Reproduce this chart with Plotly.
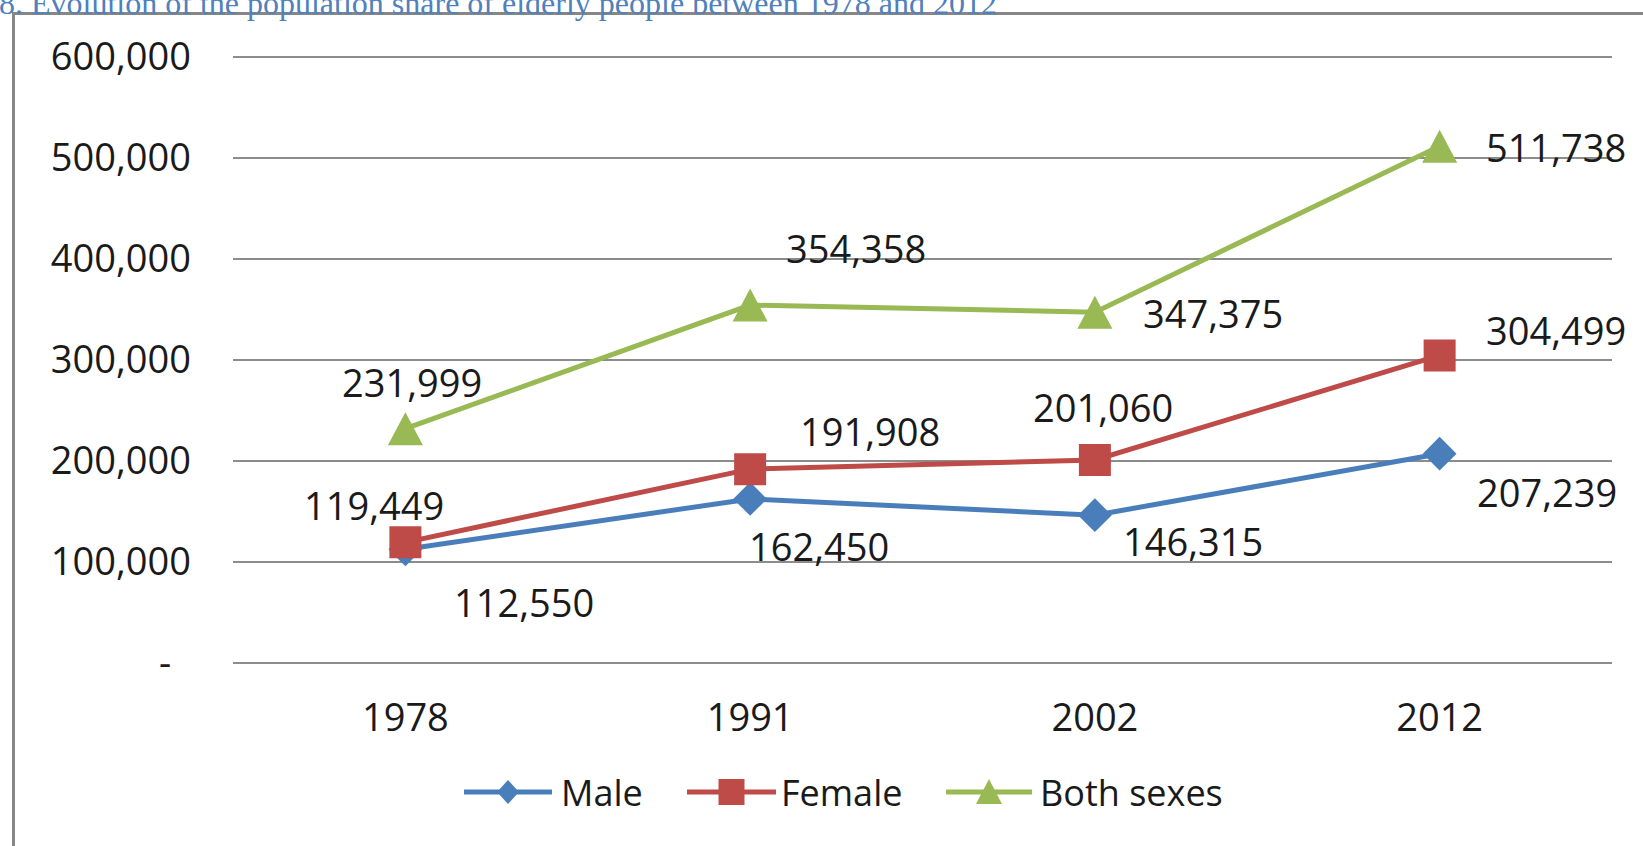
import plotly.graph_objects as go

# ---- data ----
years = ["1978", "1991", "2002", "2012"]
male = [112550, 162450, 146315, 207239]
female = [119449, 191908, 201060, 304499]
both_sexes = [231999, 354358, 347375, 511738]

y_tick_vals = [0, 100000, 200000, 300000, 400000, 500000, 600000]
y_tick_text = ["-\u00a0\u00a0", "100,000", "200,000", "300,000", "400,000", "500,000", "600,000"]

series_names = ["Male", "Female", "Both sexes"]

# ---- styling ----
W, H = 1643, 846
# small padding so the 0 and 600,000 gridlines sit inside the plot area
Y_PAD = 3000
M_L, M_R, M_T, M_B = 233, 31, 54, 180
PLOT_W = W - M_L - M_R
PLOT_H = H - M_T - M_B

BLUE = "#4A7EBB"
RED = "#BE4B48"
GREEN = "#98B954"
GRID = "#8C8C8C"
TEXT = "#1A1A1A"
FONT = "Open Sans"
FS_TEXT = 36
FS_NUM = 38

# data-label offsets in pixels (right, up) from each marker
male_offsets = [(119, -53), (69, -47), (98, -26), (107, -38)]
female_offsets = [(-31, 37), (120, 38), (8, 53), (116, 25)]
both_offsets = [(7, 47), (106, 57), (118, -1), (116, -1)]


def px(x):
    """page pixel x -> paper fraction"""
    return (x - M_L) / PLOT_W


def py(y):
    """page pixel y (from top) -> paper fraction"""
    return (H - M_B - y) / PLOT_H


fig = go.Figure()

fig.add_trace(go.Scatter(
    x=years, y=male, mode="lines+markers", name=series_names[0],
    line=dict(color=BLUE, width=5),
    marker=dict(symbol="diamond", size=26, color=BLUE),
    showlegend=False, cliponaxis=False,
))
fig.add_trace(go.Scatter(
    x=years, y=female, mode="lines+markers", name=series_names[1],
    line=dict(color=RED, width=5),
    marker=dict(symbol="square", size=32, color=RED),
    showlegend=False, cliponaxis=False,
))
fig.add_trace(go.Scatter(
    x=years, y=both_sexes, mode="lines", name=series_names[2],
    line=dict(color=GREEN, width=5),
    showlegend=False, cliponaxis=False,
))

shapes = []
# triangle markers for the "Both sexes" series, fixed pixel size
# (category axis: positions are category indices)
for i, v in enumerate(both_sexes):
    shapes.append(dict(
        type="path", xref="x", yref="y",
        xsizemode="pixel", ysizemode="pixel",
        xanchor=i, yanchor=v,
        path="M-17.5,-16.5 L17.5,-16.5 L0,16.5 Z",
        fillcolor=GREEN, line=dict(width=0), layer="above",
    ))

# chart frame
shapes.append(dict(
    type="rect", xref="paper", yref="paper",
    x0=px(13.5), x1=px(1700), y0=py(900), y1=py(13.5),
    line=dict(color="#878787", width=3), fillcolor="rgba(0,0,0,0)", layer="below",
))

annotations = []
for vals, offs in ((male, male_offsets), (female, female_offsets), (both_sexes, both_offsets)):
    for i, (v, (dx, dy)) in enumerate(zip(vals, offs)):
        annotations.append(dict(
            x=i, y=v, xref="x", yref="y", text=f"{v:,}", showarrow=False,
            xshift=dx, yshift=dy, font=dict(family=FONT, size=FS_NUM, color=TEXT),
        ))

# legend, centred under the chart frame
LEG_Y = 792
legend_items = [
    (series_names[0], BLUE, 464, 552, 559, "diamond"),
    (series_names[1], RED, 687, 776, 779, "square"),
    (series_names[2], GREEN, 946, 1032, 1038, "triangle"),
]
for name, col, lx0, lx1, tx, sym in legend_items:
    shapes.append(dict(
        type="line", xref="paper", yref="paper",
        x0=px(lx0), x1=px(lx1), y0=py(LEG_Y), y1=py(LEG_Y),
        line=dict(color=col, width=5),
    ))
    cx = (lx0 + lx1) / 2
    if sym == "diamond":
        pts = [(cx, LEG_Y - 12), (cx + 11, LEG_Y), (cx, LEG_Y + 12), (cx - 11, LEG_Y)]
    elif sym == "square":
        pts = [(cx - 13, LEG_Y - 13), (cx + 13, LEG_Y - 13), (cx + 13, LEG_Y + 13), (cx - 13, LEG_Y + 13)]
    else:
        pts = [(cx, LEG_Y - 13), (cx + 13, LEG_Y + 12), (cx - 13, LEG_Y + 12)]
    path = "M" + " L".join(f"{px(a):.5f},{py(b):.5f}" for a, b in pts) + " Z"
    shapes.append(dict(
        type="path", xref="paper", yref="paper", path=path,
        fillcolor=col, line=dict(width=0),
    ))
    annotations.append(dict(
        x=px(tx), y=py(LEG_Y), xref="paper", yref="paper", text=name,
        xanchor="left", yanchor="middle", showarrow=False,
        font=dict(family=FONT, size=FS_TEXT, color=TEXT),
    ))

# caption above the frame
annotations.append(dict(
    x=px(-3), y=py(23), xref="paper", yref="paper",
    text="8. Evolution of the population share of elderly people between 1978 and 2012",
    xanchor="left", yanchor="bottom", showarrow=False,
    font=dict(family="Liberation Serif", size=32, color="#4F81BD"),
))

fig.update_layout(
    width=W, height=H,
    margin=dict(l=M_L, r=M_R, t=M_T, b=M_B, pad=0),
    paper_bgcolor="white", plot_bgcolor="white",
    shapes=shapes, annotations=annotations,
    showlegend=False,
    xaxis=dict(
        type="category", range=[-0.5, 3.5], showgrid=False, zeroline=False,
        showline=False, ticks="", ticklabelstandoff=26,
        tickfont=dict(family=FONT, size=FS_NUM, color=TEXT),
    ),
    yaxis=dict(
        range=[-Y_PAD, 600000 + Y_PAD], tickvals=y_tick_vals, ticktext=y_tick_text,
        showgrid=True, gridcolor=GRID, gridwidth=1.5, zeroline=False,
        showline=False, ticks="", ticklabelstandoff=41,
        tickfont=dict(family=FONT, size=FS_NUM, color=TEXT),
    ),
)

fig.write_html("out.html")
